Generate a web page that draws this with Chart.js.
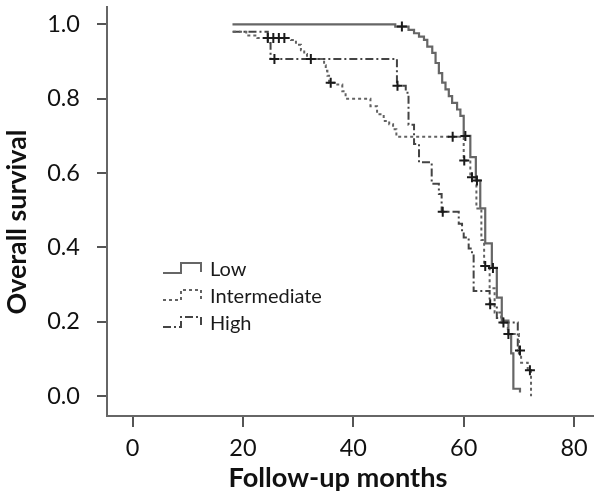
<!DOCTYPE html>
<html><head><meta charset="utf-8">
<script src="https://cdn.jsdelivr.net/npm/chart.js@4.4.0/dist/chart.umd.min.js"></script>
<style>html,body{margin:0;padding:0;background:#fff}</style>
</head><body>
<canvas id="c" width="600" height="497"></canvas>
<script>
// ---- data ----
const seriesNames = ["Low", "Intermediate", "High"];
const xTickValues = [0, 20, 40, 60, 80];
const yTickValues = [0.0, 0.2, 0.4, 0.6, 0.8, 1.0];
const xTitle = "Follow-up months";
const yTitle = "Overall survival";

const lowTime = [18.1, 47.6, 50.0, 51.0, 51.9, 52.8, 53.4, 54.3, 54.9, 55.5, 56.1, 56.7, 57.3, 57.9, 58.8, 59.4, 60.0, 61.2, 62.2, 63.0, 63.9, 65.1, 66.0, 66.9, 68.1, 68.6, 69.0, 70.2];
const lowSurv = [1.0, 0.994, 0.985, 0.976, 0.967, 0.958, 0.94, 0.923, 0.896, 0.869, 0.843, 0.825, 0.807, 0.789, 0.771, 0.754, 0.70, 0.643, 0.58, 0.505, 0.411, 0.345, 0.265, 0.203, 0.167, 0.115, 0.02, 0.01];
const lowCensor = [48.8, 60.3, 62.4, 65.3];

const intTime = [18.2, 20.6, 22.6, 28.7, 29.6, 30.5, 31.1, 31.6, 34.7, 35.0, 35.3, 35.6, 37.1, 38.0, 38.6, 43.1, 44.3, 45.5, 46.5, 47.2, 47.8, 60.0, 61.2, 62.3, 63.2, 63.7, 64.7, 65.6, 66.8, 68.0, 70.0, 70.4, 71.6, 72.2];
const intSurv = [0.98, 0.97, 0.963, 0.958, 0.945, 0.93, 0.92, 0.907, 0.89, 0.875, 0.862, 0.843, 0.838, 0.82, 0.80, 0.78, 0.758, 0.74, 0.731, 0.718, 0.698, 0.634, 0.589, 0.505, 0.42, 0.35, 0.29, 0.225, 0.198, 0.167, 0.115, 0.09, 0.07, 0.0];
const intCensor = [24.5, 25.5, 26.5, 27.5, 32.3, 35.9, 58.0, 60.1, 61.5, 63.9, 68.1, 72.0];

const highTime = [18.1, 24.5, 25.0, 47.9, 49.5, 50.0, 51.0, 51.9, 54.2, 55.5, 56.0, 59.1, 59.7, 60.0, 60.9, 61.5, 61.8, 64.7, 66.0, 67.0, 69.8, 70.2];
const highSurv = [0.98, 0.95, 0.907, 0.835, 0.816, 0.73, 0.678, 0.629, 0.571, 0.544, 0.496, 0.464, 0.443, 0.427, 0.397, 0.384, 0.283, 0.247, 0.21, 0.198, 0.123, 0.123];
const highCensor = [25.7, 48.0, 56.2, 64.8, 67.2, 70.2];

// ---- styles ----
const FONT = "Lato, 'Open Sans', sans-serif";
const styles = [
  {color: '#666666', dash: [], width: 2.2},
  {color: '#626262', dash: [3, 3], width: 2},
  {color: '#444444', dash: [8, 3, 2, 3], width: 2}
];

function curve(t, s) { return t.map((v, i) => ({x: v, y: s[i]})); }
function survAt(t, s, x) { let v = s[0]; for (let i = 0; i < t.length; i++) { if (t[i] <= x) v = s[i]; } return v; }
function censorPts(t, s, c) { return c.map(x => ({x: x, y: survAt(t, s, x)})); }

const curves = [[lowTime, lowSurv, lowCensor], [intTime, intSurv, intCensor], [highTime, highSurv, highCensor]];
const datasets = [];
curves.forEach((c, i) => {
  datasets.push({
    label: seriesNames[i] + ' censored', data: censorPts(c[0], c[1], c[2]), showLine: false,
    pointStyle: 'cross', pointRadius: 5, pointBorderWidth: 2, borderColor: '#1a1a1a', backgroundColor: '#1a1a1a'
  });
});
curves.forEach((c, i) => {
  datasets.push({
    label: seriesNames[i], data: curve(c[0], c[1]), showLine: true, stepped: true,
    borderColor: styles[i].color, borderDash: styles[i].dash, borderWidth: styles[i].width,
    pointRadius: 0, fill: false
  });
});

function fitFont(ctx, text, target, weight) {
  ctx.font = weight + ' 20px ' + FONT;
  const w = ctx.measureText(text).width;
  return 20 * target / w;
}

const decor = {
  id: 'decor',
  afterDraw(chart) {
    const ctx = chart.ctx;
    ctx.save();
    ctx.fillStyle = '#111';
    // x title
    let fs = fitFont(ctx, xTitle, 219, 'bold');
    ctx.font = 'bold ' + fs + 'px ' + FONT;
    ctx.textAlign = 'center'; ctx.textBaseline = 'middle';
    ctx.fillText(xTitle, 338, 478);
    // y title
    fs = fitFont(ctx, yTitle, 185, 'bold');
    ctx.font = 'bold ' + fs + 'px ' + FONT;
    ctx.save(); ctx.translate(17, 222); ctx.rotate(-Math.PI / 2);
    ctx.fillText(yTitle, 0, 0); ctx.restore();
    // legend
    const rows = [270, 297, 324];
    seriesNames.forEach((name, i) => {
      const yc = rows[i];
      const yb = yc + 3, yt = yc - 7;
      ctx.save();
      ctx.strokeStyle = styles[i].color; ctx.lineWidth = 2; ctx.setLineDash(styles[i].dash);
      ctx.beginPath();
      ctx.moveTo(163, yb); ctx.lineTo(181, yb); ctx.lineTo(181, yt); ctx.lineTo(201, yt); ctx.lineTo(201, yb - 1);
      ctx.stroke();
      ctx.restore();
      ctx.font = '20px ' + FONT;
      ctx.textAlign = 'left'; ctx.textBaseline = 'middle';
      ctx.fillStyle = '#1a1a1a';
      ctx.fillText(name, 210, yc);
    });
    ctx.restore();
  }
};

function zeroPad(s) { s.paddingTop = 0; s.paddingBottom = 0; s.paddingLeft = 0; s.paddingRight = 0; }

new Chart(document.getElementById('c'), {
  type: 'scatter',
  data: {datasets},
  options: {
    responsive: false, animation: false,
    layout: {padding: {top: 3, right: 5, left: 0, bottom: 0}},
    plugins: {legend: {display: false}, tooltip: {enabled: false}},
    scales: {
      x: {
        type: 'linear', min: -4.64, max: 83.43,
        afterBuildTicks: s => { s.ticks = xTickValues.map(v => ({value: v})); },
        afterFit: s => { s.height = 81; zeroPad(s); },
        grid: {drawOnChartArea: false, drawTicks: true, tickLength: 11, color: '#555', lineWidth: 2},
        border: {display: true, color: '#666', width: 2},
        ticks: {font: {family: FONT, size: 23.5}, color: '#111', padding: 7, maxRotation: 0, autoSkip: false}
      },
      y: {
        type: 'linear', min: -0.0533, max: 1.0466,
        afterBuildTicks: s => { s.ticks = yTickValues.map(v => ({value: v})); },
        afterFit: s => { s.width = 107; zeroPad(s); },
        grid: {drawOnChartArea: false, drawTicks: true, tickLength: 10, color: '#555', lineWidth: 2},
        border: {display: true, color: '#666', width: 2},
        ticks: {font: {family: FONT, size: 23.5}, color: '#111', padding: 17, autoSkip: false,
          callback: v => Number(v).toFixed(1)}
      }
    }
  },
  plugins: [decor]
});
</script>
</body></html>
